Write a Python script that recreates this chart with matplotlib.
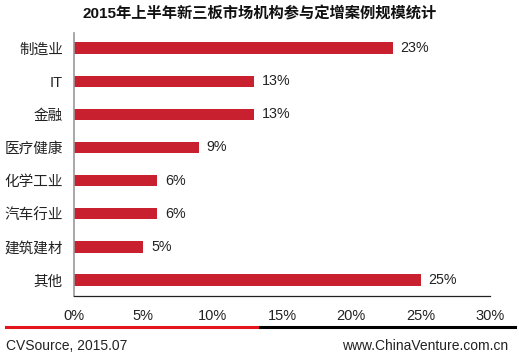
import matplotlib
matplotlib.use("Agg")
import matplotlib.pyplot as plt
from matplotlib.lines import Line2D

plt.rcParams['font.family'] = ['Liberation Sans', 'Noto Sans CJK SC', 'DejaVu Sans']

# data
categories = ["制造业", "IT", "金融", "医疗健康", "化学工业", "汽车行业", "建筑建材", "其他"]
shares = [23, 13, 13, 9, 6, 6, 5, 25]
xticks = [0, 5, 10, 15, 20, 25, 30]

fig = plt.figure(figsize=(5.19, 3.56), dpi=100)
ax = fig.add_axes([0.1426, 0.1685, 0.8014, 0.7385])

y = list(range(len(categories)))
ax.barh(y, shares, height=0.34, color="#C8202E")
for yi, v in zip(y, shares):
    ax.text(v + 0.55, yi, f"{v}%", va="center", ha="left", fontsize=10.3, color="#222222")

ax.set_xlim(0, 30)
ax.set_ylim(7.48, -0.45)
ax.set_yticks(y)
ax.set_yticklabels(categories, fontsize=10.5, color="#222222")
ax.set_xticks(xticks)
ax.set_xticklabels([f"{t}%" for t in xticks], fontsize=10.5, color="#222222")
ax.tick_params(axis="both", length=0)
ax.tick_params(axis="y", pad=8)
ax.tick_params(axis="x", pad=9)

for s in ["top", "right"]:
    ax.spines[s].set_visible(False)
ax.spines["left"].set_color("#999999")
ax.spines["left"].set_linewidth(1.2)
ax.spines["bottom"].set_color("#222222")
ax.spines["bottom"].set_linewidth(0.9)

fig.text(0.5, 1-14/356, "2015年上半年新三板市场机构参与定增案例规模统计",
         ha="center", va="center", fontsize=11, fontweight="bold", color="#111111")

# footer rule: red then black
fig.add_artist(Line2D([6/519, 260/519], [1-327/356]*2, color="#E3141C", lw=2.2))
fig.add_artist(Line2D([260/519, 515/519], [1-327/356]*2, color="#000000", lw=2.2))

fig.text(6/519, 1-346/356, "CVSource, 2015.07", ha="left", va="center", fontsize=10, color="#222222")
fig.text(508/519, 1-346/356, "www.ChinaVenture.com.cn", ha="right", va="center", fontsize=10, color="#222222")

fig.savefig("out.png", dpi=100, facecolor="white")
